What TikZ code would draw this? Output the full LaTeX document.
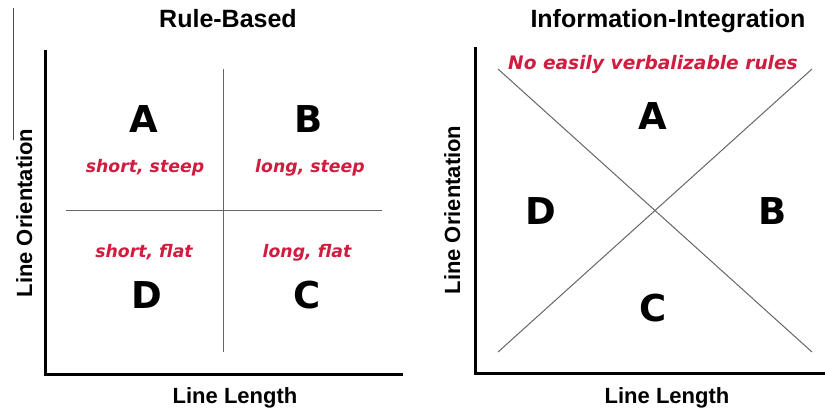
\documentclass[tikz,border=0pt]{standalone}
\usepackage{fontspec}
\setmainfont{Liberation Sans}
\newfontfamily\rulefont{DejaVu Sans}
\definecolor{rulered}{RGB}{208,28,62}
\tikzset{
  paneltitle/.style={font=\fontsize{25}{30}\selectfont\bfseries,anchor=base},
  axislabel/.style={font=\fontsize{22}{26}\selectfont\bfseries,anchor=base},
  catletter/.style={font=\rulefont\fontsize{37}{44}\selectfont\bfseries,anchor=base},
  rulelabel/.style={text=rulered,font=\rulefont\fontsize{17.3}{20}\selectfont\bfseries\itshape,anchor=base},
  axisline/.style={line width=3pt,line join=miter},
  boundline/.style={draw=black!60,line width=1pt},
}
\begin{document}
\begin{tikzpicture}[x=1pt,y=-1pt,line cap=butt]
  \useasboundingbox (0,0) rectangle (825,413);
  \draw[black!70,line width=0.8pt] (13,8)--(13,140);
  % rule-based panel
  \draw[axisline] (45,50)--(45,374)--(403,374);
  \draw[boundline] (223,69)--(223,352);
  \draw[boundline] (66,210)--(382,210);
  \node[paneltitle] (rbtitle) at (228,27) {Rule-Based};
  \node[axislabel] (rbx) at (235,403) {Line Length};
  \node[axislabel,rotate=90] (rby) at (32,213) {Line Orientation};
  \node[catletter] (rbA) at (144,132) {A};
  \node[catletter] (rbB) at (309,132) {B};
  \node[catletter] (rbD) at (147,308) {D};
  \node[catletter] (rbC) at (307,308) {C};
  \node[rulelabel] (rbAr) at (145,172) {short, steep};
  \node[rulelabel] (rbBr) at (310,172) {long, steep};
  \node[rulelabel] (rbDr) at (144,257) {short, flat};
  \node[rulelabel] (rbCr) at (307,257) {long, flat};
  % information-integration panel
  \draw[axisline] (475,47)--(475,373)--(826,373);
  \draw[boundline] (498,69)--(812,352);
  \draw[boundline] (498,352)--(812,69);
  \node[paneltitle] (iititle) at (668,27) {Information-Integration};
  \node[axislabel] (iix) at (667,403) {Line Length};
  \node[axislabel,rotate=90] (iiy) at (460,210) {Line Orientation};
  \node[rulelabel,font=\rulefont\fontsize{18.6}{22}\selectfont\bfseries\itshape] (iirule) at (653,69) {No easily verbalizable rules};
  \node[catletter] (iiA) at (653,129) {A};
  \node[catletter] (iiD) at (541,224) {D};
  \node[catletter] (iiB) at (773,224) {B};
  \node[catletter] (iiC) at (653,321) {C};
\end{tikzpicture}
\end{document}
